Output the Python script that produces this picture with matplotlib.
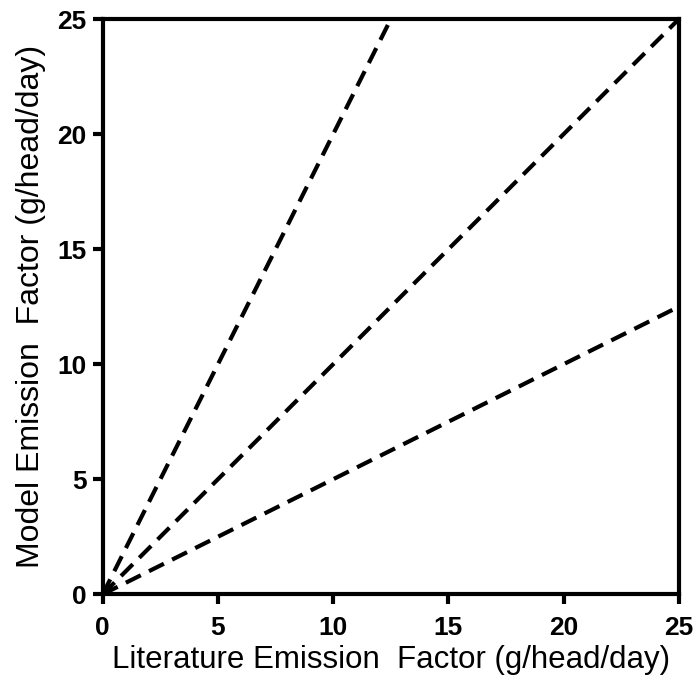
import numpy as np
import matplotlib
matplotlib.use('Agg')
import matplotlib.pyplot as plt

plt.rcParams['font.family'] = ['Liberation Sans', 'DejaVu Sans']

# reference lines: model = slope * literature
slopes = [2.0, 1.0, 0.5]
x_end = 25
ticks = [0, 5, 10, 15, 20, 25]

fig = plt.figure(figsize=(6.99, 6.87), dpi=100)
ax = fig.add_axes([0.147, 0.135, 0.824, 0.837])

xs = np.array([0, x_end])
for s in slopes:
    ax.plot(xs, s * xs, color='black', lw=3, ls=(0, (4, 2.2)), clip_on=True)

ax.set_xlim(0, 25)
ax.set_ylim(0, 25)
ax.set_xticks(ticks)
ax.set_yticks(ticks)
for sp in ax.spines.values():
    sp.set_linewidth(3)
ax.tick_params(direction='out', length=7.5, width=3, labelsize=19)
ax.tick_params(axis='x', pad=8)
ax.tick_params(axis='y', pad=4)
for lab in ax.get_xticklabels() + ax.get_yticklabels():
    lab.set_fontweight('bold')

ax.set_xlabel('Literature Emission  Factor (g/head/day)', fontsize=22.5, labelpad=4)
ax.set_ylabel('Model Emission  Factor (g/head/day)', fontsize=23, labelpad=8)

fig.savefig('out.png', dpi=100)
